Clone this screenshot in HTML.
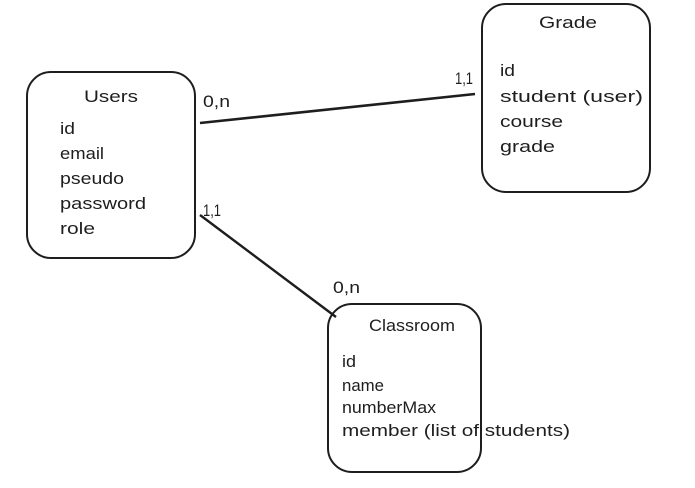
<!DOCTYPE html>
<html><head><meta charset="utf-8"><style>
html,body{margin:0;padding:0;background:#fff;width:695px;height:488px;overflow:hidden}
svg text{font-family:"Liberation Sans",sans-serif;font-size:17px;fill:#1e1e1e}
</style></head><body>
<svg width="695" height="488" viewBox="0 0 695 488" xmlns="http://www.w3.org/2000/svg">
<g fill="none" stroke="#1e1e1e" stroke-width="2">
<rect x="27" y="72" width="168" height="186" rx="24"/>
<rect x="482" y="4" width="168" height="188" rx="24"/>
<rect x="328" y="304" width="153" height="168" rx="24"/>
<path d="M200 123 L475 94" stroke-width="2.6"/>
<path d="M200 215 L336 317" stroke-width="2.4"/>
</g>
<text x="84" y="102" textLength="54" lengthAdjust="spacingAndGlyphs">Users</text>
<text x="60" y="134" textLength="15" lengthAdjust="spacingAndGlyphs">id</text>
<text x="60" y="159" textLength="44" lengthAdjust="spacingAndGlyphs">email</text>
<text x="60" y="184" textLength="64" lengthAdjust="spacingAndGlyphs">pseudo</text>
<text x="60" y="209" textLength="86" lengthAdjust="spacingAndGlyphs">password</text>
<text x="60" y="234" textLength="35" lengthAdjust="spacingAndGlyphs">role</text>
<text x="203" y="107" textLength="27" lengthAdjust="spacingAndGlyphs">0,n</text>
<text x="203" y="216" font-size="15" textLength="18" lengthAdjust="spacingAndGlyphs">1,1</text>
<text x="455" y="84" font-size="15" textLength="18" lengthAdjust="spacingAndGlyphs">1,1</text>
<text x="333" y="293" textLength="27" lengthAdjust="spacingAndGlyphs">0,n</text>
<text x="539" y="28" textLength="58" lengthAdjust="spacingAndGlyphs">Grade</text>
<text x="500" y="76" textLength="15" lengthAdjust="spacingAndGlyphs">id</text>
<text x="500" y="102" textLength="143" lengthAdjust="spacingAndGlyphs">student (user)</text>
<text x="500" y="127" textLength="63" lengthAdjust="spacingAndGlyphs">course</text>
<text x="500" y="152" textLength="55" lengthAdjust="spacingAndGlyphs">grade</text>
<text x="369" y="331" textLength="86" lengthAdjust="spacingAndGlyphs">Classroom</text>
<text x="342" y="367" textLength="14" lengthAdjust="spacingAndGlyphs">id</text>
<text x="342" y="391" textLength="42" lengthAdjust="spacingAndGlyphs">name</text>
<text x="342" y="413" textLength="94" lengthAdjust="spacingAndGlyphs">numberMax</text>
<text x="342" y="436" textLength="228" lengthAdjust="spacingAndGlyphs">member (list of students)</text>
</svg>
</body></html>
